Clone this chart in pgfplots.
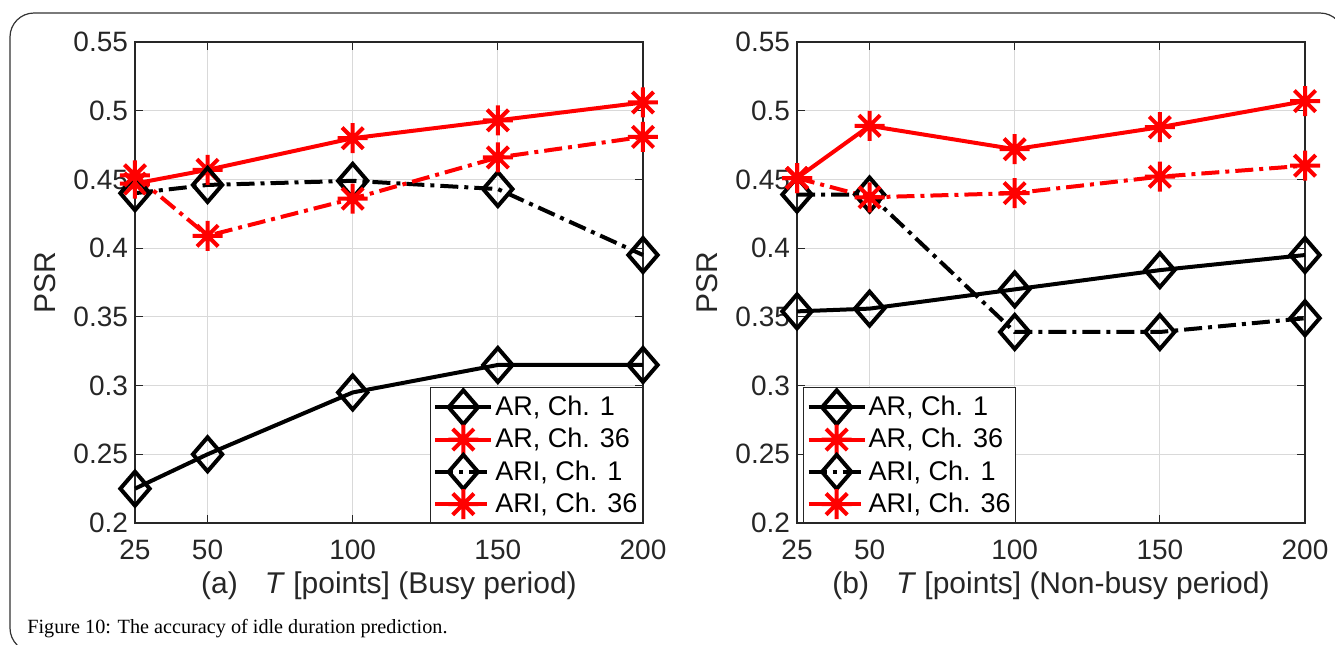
\documentclass[border=0pt]{standalone}
\usepackage{fontspec}
\setmainfont{Liberation Sans}
\newfontfamily\capfont{Liberation Serif}
\usepackage{pgfplots}
\pgfplotsset{compat=1.18}
\usetikzlibrary{plotmarks}

% MATLAB-like 8-arm asterisk
\pgfdeclareplotmark{ast8}{%
  \pgfpathmoveto{\pgfqpoint{-\pgfplotmarksize}{0pt}}\pgfpathlineto{\pgfqpoint{\pgfplotmarksize}{0pt}}%
  \pgfpathmoveto{\pgfqpoint{0pt}{-\pgfplotmarksize}}\pgfpathlineto{\pgfqpoint{0pt}{\pgfplotmarksize}}%
  \pgfpathmoveto{\pgfqpoint{-.707\pgfplotmarksize}{-.707\pgfplotmarksize}}\pgfpathlineto{\pgfqpoint{.707\pgfplotmarksize}{.707\pgfplotmarksize}}%
  \pgfpathmoveto{\pgfqpoint{-.707\pgfplotmarksize}{.707\pgfplotmarksize}}\pgfpathlineto{\pgfqpoint{.707\pgfplotmarksize}{-.707\pgfplotmarksize}}%
  \pgfusepathqstroke}

\definecolor{mgray}{rgb}{0.15,0.15,0.15}

\pgfplotsset{
  psr/.style={
    scale only axis, width=254pt, height=240.5pt,
    xmin=25, xmax=200, ymin=0.2, ymax=0.55,
    xtick={25,50,100,150,200},
    ytick={0.2,0.25,0.3,0.35,0.4,0.45,0.5,0.55},
    grid=major, grid style={black!15, line width=0.5pt},
    axis line style={mgray, line width=0.6pt},
    tick style={mgray, line width=0.5pt},
    tick align=inside, major tick length=4pt,
    ticklabel style={font=\fontsize{14}{14}\selectfont, text=mgray},
    xticklabel style={yshift=-5pt},
    /pgf/number format/assume math mode=true,
    yticklabel style={/pgf/number format/fixed, /pgf/number format/precision=2},
    label style={font=\fontsize{15}{15}\selectfont, text=mgray},
    ylabel={PSR},
    ylabel style={at={(axis description cs:-0.177,0.5)}, anchor=center},
    xlabel style={at={(axis description cs:0.5,-0.131)}, anchor=center},
    clip=false,
    legend cell align=left,
    legend style={font=\fontsize{13.5}{13.5}\selectfont, draw=mgray, line width=0.6pt,
      fill=white, inner sep=1.5pt, row sep=0pt, nodes={inner xsep=1pt}},
    every axis plot post/.append style={legend image code/.code={%
      \draw[mark repeat=2,mark phase=2] plot coordinates {(0pt,0pt)(14pt,0pt)(28pt,0pt)};}},
  },
  ar1/.style={black, line width=2pt, mark=diamond, mark size=8.5pt, mark options={solid, xscale=1.15}},
  ar36/.style={red, line width=2pt, mark=ast8, mark size=7.5pt, mark options={solid}},
  ari1/.style={ar1, dash pattern=on 9pt off 3pt on 2pt off 3pt},
  ari36/.style={ar36, dash pattern=on 9pt off 3pt on 2pt off 3pt},
}

\begin{document}
\begin{tikzpicture}
\useasboundingbox (0pt,0pt) rectangle (667.5pt,-322pt);
\draw[rounded corners=12pt, line width=0.6pt, black!80] (5pt,-6.5pt) rectangle (672pt,-326pt);

% (a) busy period
\begin{axis}[psr, at={(67.5pt,-261.5pt)}, anchor=south west,
  xlabel={(a)\hspace{0.9em}\textit{T} [points] (Busy period)},
  legend style={at={(axis description cs:1,0)}, anchor=south east}]
\addplot[ar1] coordinates {(25,0.225) (50,0.250) (100,0.295) (150,0.315) (200,0.315)};
\addplot[ar36] coordinates {(25,0.447) (50,0.457) (100,0.480) (150,0.493) (200,0.506)};
\addplot[ari1] coordinates {(25,0.440) (50,0.446) (100,0.449) (150,0.443) (200,0.395)};
\addplot[ari36] coordinates {(25,0.453) (50,0.409) (100,0.436) (150,0.466) (200,0.481)};
\legend{AR{,} Ch. 1, AR{,} Ch. 36, ARI{,} Ch. 1, ARI{,} Ch. 36}
\end{axis}

% (b) non-busy period
\begin{axis}[psr, at={(398.5pt,-261.5pt)}, anchor=south west,
  xlabel={(b)\hspace{0.9em}\textit{T} [points] (Non-busy period)},
  legend style={at={(axis description cs:0.012,0)}, anchor=south west}]
\addplot[ar1] coordinates {(25,0.354) (50,0.356) (100,0.370) (150,0.384) (200,0.395)};
\addplot[ar36] coordinates {(25,0.451) (50,0.489) (100,0.472) (150,0.488) (200,0.507)};
\addplot[ari1] coordinates {(25,0.439) (50,0.439) (100,0.339) (150,0.339) (200,0.349)};
\addplot[ari36] coordinates {(25,0.451) (50,0.437) (100,0.440) (150,0.452) (200,0.460)};
\legend{AR{,} Ch. 1, AR{,} Ch. 36, ARI{,} Ch. 1, ARI{,} Ch. 36}
\end{axis}

\node[anchor=base west, inner sep=0pt, font=\capfont\fontsize{10.1}{11}\selectfont] at (13.5pt,-316.5pt)
  {Figure 10: The accuracy of idle duration prediction.};
\end{tikzpicture}
\end{document}
